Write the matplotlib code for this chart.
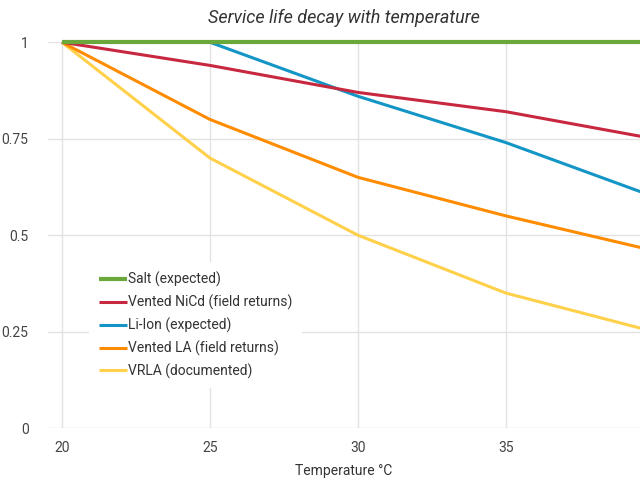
import matplotlib
matplotlib.use('Agg')
import matplotlib.pyplot as plt

temps = [20, 25, 30, 35, 40]
salt = [1, 1, 1, 1, 1]
nicd = [1, 0.94, 0.87, 0.82, 0.75]
li_ion = [1, 1, 0.86, 0.74, 0.6]
vented_la = [1, 0.8, 0.65, 0.55, 0.46]
vrla = [1, 0.7, 0.5, 0.35, 0.25]

labels = ['Salt (expected)', 'Vented NiCd (field returns)', 'Li-Ion (expected)',
          'Vented LA (field returns)', 'VRLA (documented)']
colors = ['#6aa83c', '#c8283f', '#1396c6', '#ff8c00', '#ffd04a']

plt.rcParams['font.family'] = ['Roboto', 'DejaVu Sans']

fig = plt.figure(figsize=(6.4, 4.8), dpi=100)
ax = fig.add_axes([0.075, 0.108, 0.925, 0.804])

series = [salt, nicd, li_ion, vented_la, vrla]
for i in range(len(series) - 1, -1, -1):
    lw = 3.0 if i == 0 else 2.2
    ax.plot(temps, series[i], color=colors[i], lw=lw, label=labels[i],
            clip_on=False, solid_capstyle='butt', zorder=3 + (5 - i))

ax.set_xlim(19.53, 39.53)
ax.set_ylim(0, 1)
ax.set_xticks([20, 25, 30, 35])
ax.set_yticks([0, 0.25, 0.5, 0.75, 1])
ax.set_yticklabels(['0', '0.25', '0.5', '0.75', '1'])
ax.grid(True, color='#e2e2e2', lw=1)
ax.set_axisbelow(True)
for s in ax.spines.values():
    s.set_visible(False)
ax.tick_params(length=0, labelsize=10, colors='#444444', pad=9)
ax.tick_params(axis='y', pad=14)
ax.set_xlabel('Temperature °C', fontsize=10, color='#333333', labelpad=7)
ax.set_title('Service life decay with temperature', fontsize=13, style='italic',
             color='#333333', pad=14)

handles, labs = ax.get_legend_handles_labels()
leg = ax.legend(handles[::-1], labs[::-1], loc='center left', bbox_to_anchor=(0.07, 0.267),
                frameon=True, fontsize=10, handlelength=2.0, handletextpad=0.1,
                labelspacing=0.55, borderaxespad=0, borderpad=0.7, fancybox=False)
leg.get_frame().set_edgecolor('none')
leg.get_frame().set_facecolor('white')
leg.get_frame().set_alpha(1)
for t in leg.get_texts():
    t.set_color('#333333')

fig.savefig('out.png', dpi=100)
